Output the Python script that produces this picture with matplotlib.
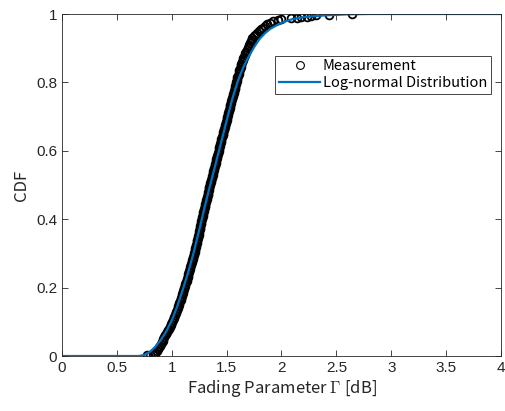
import numpy as np
import matplotlib
matplotlib.use("Agg")
import matplotlib.pyplot as plt
from matplotlib.ticker import FormatStrFormatter

# log-normal fit (x in dB, CDF)
fit_x = [0.0, 0.70, 0.75, 0.80, 0.85, 0.90, 0.95, 1.00, 1.05, 1.10, 1.15, 1.20,
         1.25, 1.30, 1.35, 1.40, 1.45, 1.50, 1.55, 1.60, 1.65, 1.70, 1.75, 1.80,
         1.85, 1.90, 1.95, 2.00, 2.05, 2.10, 2.15, 2.20, 2.40, 2.60, 2.80, 3.00, 4.00]
fit_cdf = [0.0, 0.0, 0.003, 0.012, 0.027, 0.047, 0.072, 0.104, 0.145, 0.194, 0.245, 0.303,
           0.368, 0.436, 0.500, 0.562, 0.625, 0.688, 0.750, 0.802, 0.843, 0.875, 0.903, 0.927,
           0.944, 0.957, 0.966, 0.974, 0.980, 0.985, 0.988, 0.991, 0.996, 0.999, 1.0, 1.0, 1.0]

# measured fading parameter, CDF levels 0.010, 0.015, ... 0.980
meas_body = [
    0.850, 0.862, 0.872, 0.880, 0.890, 0.898, 0.907, 0.917, 0.924, 0.931,
    0.941, 0.951, 0.958, 0.965, 0.974, 0.983, 0.989, 0.996, 1.004, 1.012,
    1.018, 1.023, 1.030, 1.037, 1.042, 1.047, 1.054, 1.061, 1.066, 1.070,
    1.076, 1.082, 1.086, 1.090, 1.095, 1.100, 1.104, 1.108, 1.114, 1.121,
    1.125, 1.129, 1.135, 1.140, 1.144, 1.147, 1.152, 1.157, 1.161, 1.165,
    1.170, 1.175, 1.178, 1.182, 1.187, 1.192, 1.196, 1.200, 1.205, 1.209,
    1.212, 1.215, 1.219, 1.223, 1.226, 1.229, 1.233, 1.238, 1.241, 1.244,
    1.248, 1.252, 1.254, 1.257, 1.261, 1.265, 1.268, 1.271, 1.276, 1.280,
    1.283, 1.286, 1.289, 1.293, 1.296, 1.299, 1.303, 1.307, 1.310, 1.313,
    1.318, 1.323, 1.326, 1.329, 1.333, 1.337, 1.340, 1.343, 1.347, 1.351,
    1.355, 1.360, 1.364, 1.368, 1.372, 1.375, 1.379, 1.384, 1.387, 1.390,
    1.395, 1.400, 1.403, 1.406, 1.411, 1.416, 1.419, 1.422, 1.426, 1.431,
    1.434, 1.437, 1.442, 1.447, 1.450, 1.453, 1.458, 1.463, 1.466, 1.469,
    1.474, 1.479, 1.482, 1.485, 1.490, 1.495, 1.499, 1.503, 1.507, 1.512,
    1.515, 1.518, 1.523, 1.528, 1.531, 1.534, 1.539, 1.544, 1.547, 1.551,
    1.556, 1.561, 1.565, 1.569, 1.573, 1.577, 1.580, 1.583, 1.587, 1.592,
    1.595, 1.599, 1.604, 1.609, 1.613, 1.617, 1.622, 1.627, 1.630, 1.634,
    1.640, 1.646, 1.651, 1.656, 1.663, 1.671, 1.677, 1.684, 1.693, 1.701,
    1.708, 1.714, 1.722, 1.729, 1.735, 1.746, 1.760, 1.776, 1.795, 1.811,
    1.830, 1.849, 1.870, 1.895, 1.925]
# sparse tails
low_x = [0.77, 0.80, 0.83, 0.845]
low_cdf = [0.002, 0.004, 0.006, 0.008]
high_x = [1.97, 2.00, 2.09, 2.14, 2.18, 2.23, 2.27, 2.31, 2.43, 2.645]
high_cdf = [0.983, 0.985, 0.987, 0.989, 0.990, 0.992, 0.994, 0.996, 0.998, 1.0]

body_cdf = np.arange(2, len(meas_body) + 2) / 200
meas_x = np.concatenate([low_x, meas_body, high_x])
meas_cdf = np.concatenate([low_cdf, body_cdf, high_cdf])

plt.rcParams['font.family'] = ['Noto Sans CJK JP', 'DejaVu Sans']
plt.rcParams['mathtext.fontset'] = 'cm'
dark = (0.15, 0.15, 0.15)

fig = plt.figure(figsize=(5.06, 4.11), dpi=100)
ax = fig.add_axes([62 / 506, 55 / 411, 439 / 506, 342 / 411])

ax.plot(meas_x, meas_cdf, 'o', ls='none', mfc='none', mec='k', ms=5.6, mew=1.3,
        label='Measurement')
ax.plot(fit_x, fit_cdf, '-', color=(0, 0.447, 0.741), lw=1.6,
        label='Log-normal Distribution')

ax.set_xlim(0, 4)
ax.set_ylim(0, 1)
ax.set_xticks(np.arange(0, 4.01, 0.5))
ax.set_yticks(np.arange(0, 1.01, 0.2))
ax.xaxis.set_major_formatter(FormatStrFormatter('%g'))
ax.yaxis.set_major_formatter(FormatStrFormatter('%g'))
ax.tick_params(direction='in', top=True, right=True, length=4, width=0.6,
               colors=dark, labelsize=11)
for lab in ax.get_xticklabels() + ax.get_yticklabels():
    lab.set_family(['Liberation Sans', 'DejaVu Sans'])
for s in ax.spines.values():
    s.set_color(dark)
    s.set_linewidth(0.6)

ax.set_xlabel(r'Fading Parameter $\Gamma$ [dB]', fontsize=12, color=dark, labelpad=2)
ax.set_ylabel('CDF', fontsize=12, color=dark, labelpad=4)

leg = ax.legend(loc='upper right', bbox_to_anchor=(0.977, 0.878), borderaxespad=0,
                fancybox=False, framealpha=1, edgecolor=dark, fontsize=10.5,
                handlelength=2.8, handletextpad=0.2, borderpad=0.25, labelspacing=0.2)
leg.get_frame().set_linewidth(0.6)
leg.legend_handles[0].set_markeredgewidth(0.8)

fig.savefig('out.png', dpi=100)
